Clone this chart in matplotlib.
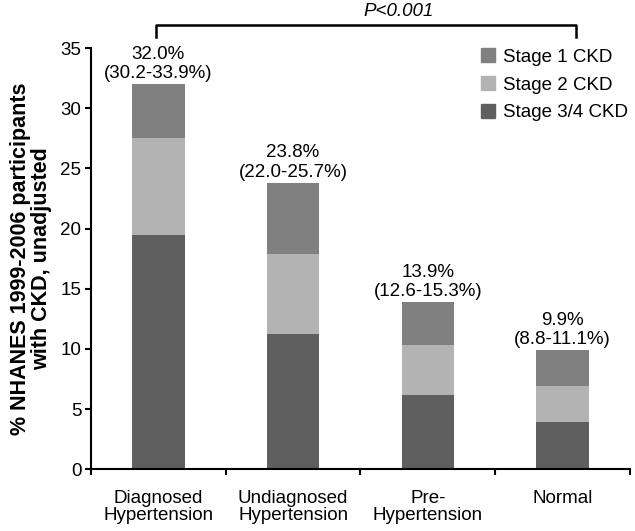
import numpy as np
import matplotlib.pyplot as plt
from matplotlib.patches import Patch

plt.rcParams['font.family'] = ['Liberation Sans', 'DejaVu Sans']

# data
categories = ['Diagnosed\nHypertension', 'Undiagnosed\nHypertension', 'Pre-\nHypertension', 'Normal']
stage34 = [19.5, 11.2, 6.2, 3.9]
stage2 = [8.0, 6.7, 4.1, 3.0]
stage1 = [4.5, 5.9, 3.6, 3.0]
totals = ['32.0%', '23.8%', '13.9%', '9.9%']
cis = ['(30.2-33.9%)', '(22.0-25.7%)', '(12.6-15.3%)', '(8.8-11.1%)']

c34 = '#5f5f5f'
c2 = '#b3b3b3'
c1 = '#808080'
fs = 13.5

fig = plt.figure(figsize=(6.35, 5.31), dpi=100)
ax = fig.add_axes([0.1433, 0.1162, 0.8487, 0.7934])

x = np.arange(len(categories)) + 0.5
w = 0.39
s34 = np.array(stage34)
s2 = np.array(stage2)
s1 = np.array(stage1)
ax.bar(x, s34, w, color=c34)
ax.bar(x, s2, w, bottom=s34, color=c2)
ax.bar(x, s1, w, bottom=s34 + s2, color=c1)

top = s34 + s2 + s1
for xi, t, lab, ci in zip(x, top, totals, cis):
    ax.text(xi, t + 0.15, lab + '\n' + ci, ha='center', va='bottom',
            fontsize=fs, linespacing=1.2)

ax.set_xlim(0, 4)
ax.set_ylim(0, 35)
ax.set_yticks(np.arange(0, 36, 5))
ax.set_xticks([0, 1, 2, 3, 4])
ax.set_xticklabels([])
for xi, cat in zip(x, categories):
    ax.text(xi, -1.7, cat, ha='center', va='top', fontsize=fs, linespacing=1.0)

ax.spines['top'].set_visible(False)
ax.spines['right'].set_visible(False)
ax.spines['left'].set_linewidth(1.5)
ax.spines['bottom'].set_linewidth(1.5)
ax.tick_params(axis='both', direction='out', length=4, width=1.5, labelsize=fs)
ax.tick_params(axis='y', pad=3)

ax.set_ylabel('% NHANES 1999-2006 participants\nwith CKD, unadjusted',
              fontsize=15.5, fontweight='bold', labelpad=6, linespacing=1.0)

# significance bracket
ax.plot([0.48, 0.48, 3.6, 3.6], [35.95, 36.95, 36.95, 35.95],
        color='black', lw=1.8, clip_on=False)
ax.text(2.28, 38.05, 'P<0.001', ha='center', va='center', fontsize=fs,
        style='italic', clip_on=False)

handles = [Patch(color=c1, label='Stage 1 CKD'),
           Patch(color=c2, label='Stage 2 CKD'),
           Patch(color=c34, label='Stage 3/4 CKD')]
ax.legend(handles=handles, loc='upper right', bbox_to_anchor=(1.02, 1.03),
          frameon=False, fontsize=fs, handlelength=0.75, handleheight=0.75,
          handletextpad=0.4, labelspacing=0.55, borderpad=0.2)

plt.savefig('out.png', dpi=100)
